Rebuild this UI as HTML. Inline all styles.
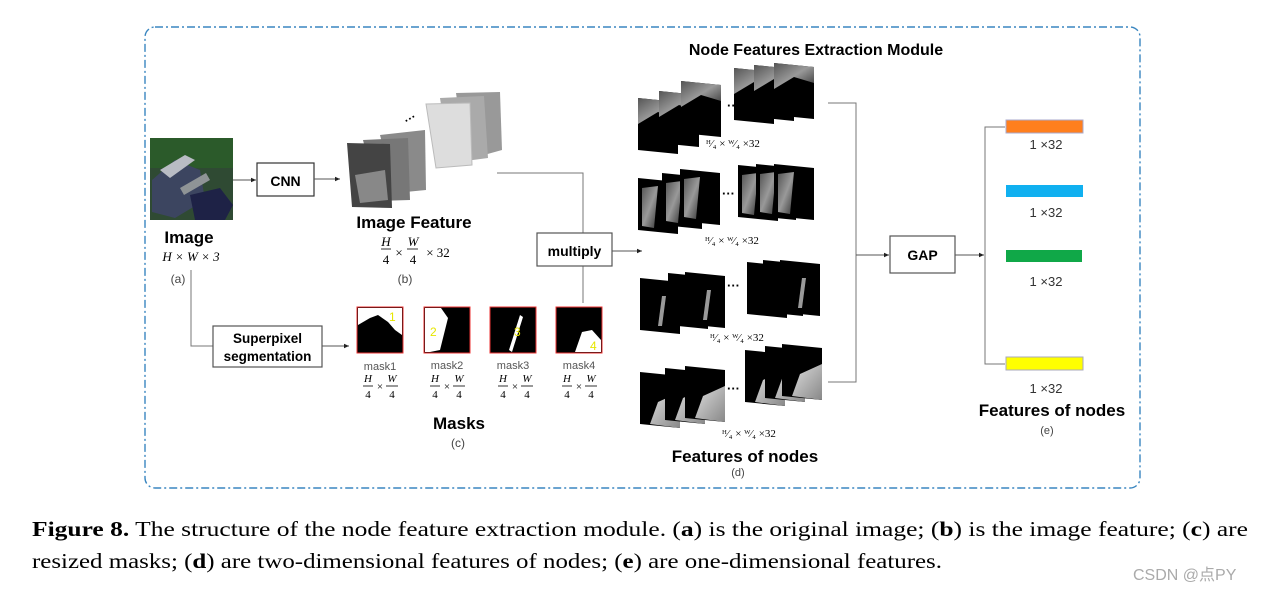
<!DOCTYPE html>
<html><head><meta charset="utf-8"><style>
html,body{margin:0;padding:0;background:#fff;}
svg{display:block;}
.s{font-family:"Liberation Sans",sans-serif;}
.r{font-family:"Liberation Serif",serif;}
</style></head><body>
<svg width="1263" height="591" viewBox="0 0 1263 591" xmlns="http://www.w3.org/2000/svg">
<defs>
<marker id="ar" markerWidth="6" markerHeight="6" refX="5" refY="3" orient="auto"><path d="M0,0.8 L5,3 L0,5.2z" fill="#222"/></marker>
<linearGradient id="g1" x1="0" y1="0" x2="1" y2="1"><stop offset="0" stop-color="#555"/><stop offset=".5" stop-color="#999"/><stop offset="1" stop-color="#333"/></linearGradient>
<linearGradient id="g2" x1="0" y1="0" x2="1" y2="1"><stop offset="0" stop-color="#ddd"/><stop offset="1" stop-color="#888"/></linearGradient>
<g id="q"><polygon points="0,0 40,4 40,56 0,52" fill="#000"/><polygon points="0,0 40,4 40,20 20,14 0,26" fill="url(#g1)"/></g>
<g id="q2"><polygon points="0,0 40,4 40,56 0,52" fill="#000"/><polygon points="4,10 20,8 16,50 4,48" fill="url(#g1)"/></g>
<g id="q3"><polygon points="0,0 40,4 40,56 0,52" fill="#000"/><polygon points="22,18 26,18 22,48 18,48" fill="#999"/></g>
<g id="q4"><polygon points="0,0 40,4 40,56 0,52" fill="#000"/><polygon points="10,52 18,30 40,20 40,56" fill="url(#g2)"/></g>
</defs>

<!-- dashed border -->
<rect x="145" y="27" width="995" height="461" rx="10" fill="none" stroke="#3a86c0" stroke-width="1.4" stroke-dasharray="8,3,2,3"/>

<!-- image -->
<rect x="150" y="138" width="83" height="82" fill="#2f4a33"/>
<rect x="150" y="138" width="83" height="30" fill="#2b5a2a"/>
<polygon points="152,180 175,160 200,170 205,200 175,218 152,212" fill="#3c4560"/>
<polygon points="190,195 220,188 233,205 225,220 195,220" fill="#1e2246"/>
<polygon points="160,170 185,155 195,160 170,178" fill="#b9bcc4"/>
<rect x="180" y="180" width="30" height="8" fill="#8f9496" transform="rotate(-30 195 184)"/>

<!-- CNN -->
<rect x="257" y="163" width="57" height="33" fill="#fff" stroke="#333" stroke-width="1.2"/>
<text x="285.5" y="186" class="s" font-size="14" font-weight="bold" text-anchor="middle">CNN</text>
<line x1="233" y1="180" x2="256" y2="180" stroke="#555" marker-end="url(#ar)"/>
<line x1="314" y1="179" x2="340" y2="179" stroke="#555" marker-end="url(#ar)"/>

<!-- image feature stack -->
<polygon points="456,93 500,92 502,150 466,160" fill="#999"/>
<polygon points="440,98 484,96 488,158 450,163" fill="#aaa"/>
<polygon points="426,104 470,103 472,165 436,168" fill="#ddd" stroke="#bbb"/>
<polygon points="380,135 425,130 426,190 395,193" fill="#8a8a8a"/>
<polygon points="363,140 408,138 410,200 378,201" fill="#777"/>
<polygon points="347,143 390,144 392,208 352,207" fill="#444"/>
<polygon points="355,175 385,170 388,200 360,203" fill="#888"/>
<text x="407" y="125" class="s" font-size="12" font-weight="bold" transform="rotate(-30 407 125)">···</text>
<text x="414" y="228" class="s" font-size="17" font-weight="bold" text-anchor="middle">Image Feature</text>
<g class="r" font-size="13" font-style="italic" text-anchor="middle">
<text x="386" y="246">H</text><line x1="381" y1="249" x2="391" y2="249" stroke="#333"/><text x="386" y="264" font-style="normal">4</text>
<text x="399" y="257" font-style="normal">×</text>
<text x="413" y="246">W</text><line x1="407" y1="249" x2="418" y2="249" stroke="#333"/><text x="413" y="264" font-style="normal">4</text>
<text x="438" y="257" font-style="normal">× 32</text>
<text x="405" y="283" font-style="normal" font-family="Liberation Sans" font-size="12" fill="#444">(b)</text>
</g>

<!-- image labels -->
<text x="189" y="243" class="s" font-size="17" font-weight="bold" text-anchor="middle">Image</text>
<text x="191" y="261" class="r" font-size="13" font-style="italic" text-anchor="middle">H × W × 3</text>
<text x="178" y="283" class="s" font-size="12" fill="#444" text-anchor="middle">(a)</text>

<!-- superpixel -->
<polyline points="191,270 191,346 213,346" fill="none" stroke="#777"/>
<rect x="213" y="326" width="109" height="41" fill="#fff" stroke="#555" stroke-width="1.2"/>
<text x="267.5" y="343" class="s" font-size="13.5" font-weight="bold" text-anchor="middle">Superpixel</text>
<text x="267.5" y="361" class="s" font-size="13.5" font-weight="bold" text-anchor="middle">segmentation</text>
<line x1="322" y1="346" x2="349" y2="346" stroke="#555" marker-end="url(#ar)"/>

<!-- masks -->
<g stroke="#e33" stroke-width="1">
<rect x="357" y="307" width="46" height="46" fill="#000"/>
<rect x="424" y="307" width="46" height="46" fill="#000"/>
<rect x="490" y="307" width="46" height="46" fill="#000"/>
<rect x="556" y="307" width="46" height="46" fill="#000"/>
</g>
<polygon points="358,308 402,308 402,335 395,330 388,322 378,315 370,318 358,325" fill="#fff"/>
<polygon points="425,308 441,308 448,318 440,350 430,352 425,352" fill="#fff"/>
<polygon points="520,315 523,317 512,352 509,350" fill="#fff"/>
<polygon points="575,352 582,332 592,330 601,340 601,352" fill="#fff"/>
<g class="s" font-size="12" fill="#e6e600"><text x="389" y="321">1</text><text x="430" y="336">2</text><text x="514" y="336">3</text><text x="590" y="350">4</text></g>
<g class="s" font-size="11" fill="#555" text-anchor="middle"><text x="380" y="370">mask1</text><text x="447" y="369">mask2</text><text x="513" y="369">mask3</text><text x="579" y="369">mask4</text></g>
<g class="r" font-size="11" text-anchor="middle">
<g transform="translate(380,0)"><text x="-12" y="382" font-style="italic">H</text><text x="-12" y="398">4</text><text x="0" y="390">×</text><text x="12" y="382" font-style="italic">W</text><text x="12" y="398">4</text><line x1="-17" y1="386" x2="-7" y2="386" stroke="#333"/><line x1="6" y1="386" x2="18" y2="386" stroke="#333"/></g>
<g transform="translate(447,0)"><text x="-12" y="382" font-style="italic">H</text><text x="-12" y="398">4</text><text x="0" y="390">×</text><text x="12" y="382" font-style="italic">W</text><text x="12" y="398">4</text><line x1="-17" y1="386" x2="-7" y2="386" stroke="#333"/><line x1="6" y1="386" x2="18" y2="386" stroke="#333"/></g>
<g transform="translate(515,0)"><text x="-12" y="382" font-style="italic">H</text><text x="-12" y="398">4</text><text x="0" y="390">×</text><text x="12" y="382" font-style="italic">W</text><text x="12" y="398">4</text><line x1="-17" y1="386" x2="-7" y2="386" stroke="#333"/><line x1="6" y1="386" x2="18" y2="386" stroke="#333"/></g>
<g transform="translate(579,0)"><text x="-12" y="382" font-style="italic">H</text><text x="-12" y="398">4</text><text x="0" y="390">×</text><text x="12" y="382" font-style="italic">W</text><text x="12" y="398">4</text><line x1="-17" y1="386" x2="-7" y2="386" stroke="#333"/><line x1="6" y1="386" x2="18" y2="386" stroke="#333"/></g>
</g>
<text x="459" y="429" class="s" font-size="17" font-weight="bold" text-anchor="middle">Masks</text>
<text x="458" y="447" class="s" font-size="12" fill="#444" text-anchor="middle">(c)</text>

<!-- multiply -->
<polyline points="497,173 583,173 583,233" fill="none" stroke="#777"/>
<line x1="583" y1="266" x2="583" y2="303" stroke="#777"/>
<rect x="537" y="233" width="75" height="33" fill="#fff" stroke="#555" stroke-width="1.2"/>
<text x="574.5" y="256" class="s" font-size="14" font-weight="bold" text-anchor="middle">multiply</text>
<line x1="612" y1="251" x2="642" y2="251" stroke="#555" marker-end="url(#ar)"/>

<!-- title -->
<text x="816" y="55" class="s" font-size="16" font-weight="bold" text-anchor="middle">Node Features Extraction Module</text>

<!-- feature node rows -->
<g transform="translate(638,98)"><use href="#q"/><use href="#q" x="21" y="-7"/><use href="#q" x="43" y="-17"/><use href="#q" x="96" y="-30"/><use href="#q" x="116" y="-33"/><use href="#q" x="136" y="-35"/></g>
<g transform="translate(638,178)"><use href="#q2"/><use href="#q2" x="24" y="-5"/><use href="#q2" x="42" y="-9"/><use href="#q2" x="100" y="-13"/><use href="#q2" x="118" y="-14"/><use href="#q2" x="136" y="-14"/></g>
<g transform="translate(640,278)"><use href="#q3"/><use href="#q3" x="28" y="-5"/><use href="#q3" x="45" y="-6"/><use href="#q3" x="107" y="-16"/><use href="#q3" x="123" y="-18"/><use href="#q3" x="140" y="-18"/></g>
<g transform="translate(640,372)"><use href="#q4"/><use href="#q4" x="25" y="-4"/><use href="#q4" x="45" y="-6"/><use href="#q4" x="105" y="-22"/><use href="#q4" x="125" y="-26"/><use href="#q4" x="142" y="-28"/></g>
<g class="s" font-size="13" font-weight="bold"><text x="727" y="110">···</text><text x="722" y="198">···</text><text x="727" y="290">···</text><text x="727" y="393">···</text></g>
<g class="r" font-size="11">
<text x="706" y="147">ᴴ⁄₄ × ᵂ⁄₄ ×32</text>
<text x="705" y="244">ᴴ⁄₄ × ᵂ⁄₄ ×32</text>
<text x="710" y="341">ᴴ⁄₄ × ᵂ⁄₄ ×32</text>
<text x="722" y="437">ᴴ⁄₄ × ᵂ⁄₄ ×32</text>
</g>
<text x="745" y="462" class="s" font-size="17" font-weight="bold" text-anchor="middle">Features of nodes</text>
<text x="738" y="476" class="s" font-size="11" fill="#444" text-anchor="middle">(d)</text>

<!-- connectors to GAP -->
<polyline points="828,103 856,103 856,382 828,382" fill="none" stroke="#777"/>
<line x1="856" y1="255" x2="889" y2="255" stroke="#555" marker-end="url(#ar)"/>
<rect x="890" y="236" width="65" height="37" fill="#fff" stroke="#555" stroke-width="1.2"/>
<text x="922.5" y="260" class="s" font-size="14" font-weight="bold" text-anchor="middle">GAP</text>
<line x1="955" y1="255" x2="984" y2="255" stroke="#555" marker-end="url(#ar)"/>
<polyline points="1005,127 985,127 985,364 1005,364" fill="none" stroke="#777"/>

<!-- bars -->
<rect x="1006" y="120" width="77" height="13" fill="#ff7f1e" stroke="#aac"/>
<rect x="1006" y="185" width="77" height="12" fill="#10b0f0"/>
<rect x="1006" y="250" width="76" height="12" fill="#10a848"/>
<rect x="1006" y="357" width="77" height="13" fill="#ffff00" stroke="#aab"/>
<g class="s" font-size="13" fill="#333" text-anchor="middle">
<text x="1046" y="149">1 ×32</text><text x="1046" y="217">1 ×32</text><text x="1046" y="286">1 ×32</text><text x="1046" y="393">1 ×32</text>
</g>
<text x="1052" y="416" class="s" font-size="17" font-weight="bold" text-anchor="middle">Features of nodes</text>
<text x="1047" y="434" class="s" font-size="11" fill="#444" text-anchor="middle">(e)</text>

<!-- caption -->
<text x="32" y="536" class="r" font-size="21" textLength="1216" lengthAdjust="spacingAndGlyphs"><tspan font-weight="bold">Figure 8.</tspan> The structure of the node feature extraction module. (<tspan font-weight="bold">a</tspan>) is the original image; (<tspan font-weight="bold">b</tspan>) is the image feature; (<tspan font-weight="bold">c</tspan>) are</text>
<text x="32" y="568" class="r" font-size="21" textLength="910" lengthAdjust="spacingAndGlyphs">resized masks; (<tspan font-weight="bold">d</tspan>) are two-dimensional features of nodes; (<tspan font-weight="bold">e</tspan>) are one-dimensional features.</text>
<text x="1133" y="580" font-family="'Liberation Sans','Noto Sans CJK SC',sans-serif" font-size="16" fill="#aaa">CSDN @点PY</text>
</svg>
</body></html>
